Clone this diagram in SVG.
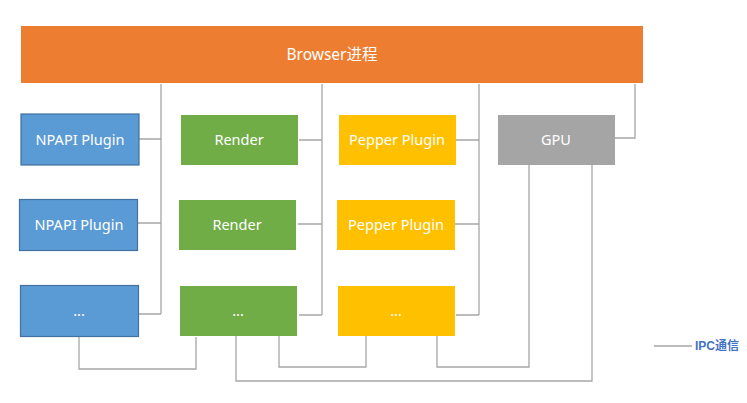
<svg xmlns="http://www.w3.org/2000/svg" width="747" height="403" viewBox="0 0 747 403">
<style>
.t{font-family:"Noto Sans","Noto Sans CJK SC",sans-serif;font-size:14.5px;fill:#fff;text-anchor:middle}
.np{fill:#5B9BD5;stroke:#41719C;stroke-width:1.2}
.re{fill:#70AD47}
.pp{fill:#FFC000}
.gp{fill:#A5A5A5}
.br{fill:#ED7D31}
.c{fill:none;stroke:#A6A6A6;stroke-width:1.3}
</style>
<rect width="747" height="403" fill="#fff"/>
<g id="connectors">
<path class="c" d="M161,84V314M139,139H161M138,223H161M139,314H161"/>
<path class="c" d="M322,84V315M299,140H322M298,224H322M299,315H322"/>
<path class="c" d="M479,84V315M456,140H479M455,224H479M456,315H479"/>
<path class="c" d="M615,138H635V84"/>
<path class="c" d="M79,336V369H196V337"/>
<path class="c" d="M236,336V381H592V165"/>
<path class="c" d="M279,336V367H366V336"/>
<path class="c" d="M437,336V367H529V165"/>
</g>
<g id="browser"><rect class="br" x="21" y="26" width="622" height="57"/><text class="t" x="332" y="60" style="font-size:15.5px">Browser进程</text></g>
<g id="npapi1"><rect class="np" x="21" y="114" width="118" height="51"/><text class="t" x="80" y="145">NPAPI Plugin</text></g>
<g id="npapi2"><rect class="np" x="19.5" y="199.5" width="118" height="51"/><text class="t" x="79" y="230">NPAPI Plugin</text></g>
<g id="npapi3"><rect class="np" x="20.5" y="285.5" width="118" height="51"/><text class="t" x="79" y="316">...</text></g>
<g id="render1"><rect class="re" x="181" y="115" width="117" height="50"/><text class="t" x="239" y="145">Render</text></g>
<g id="render2"><rect class="re" x="179" y="200" width="117" height="50"/><text class="t" x="237" y="230">Render</text></g>
<g id="render3"><rect class="re" x="180" y="286" width="117" height="50"/><text class="t" x="238" y="316">...</text></g>
<g id="pepper1"><rect class="pp" x="339" y="115" width="117" height="50"/><text class="t" x="397" y="145">Pepper Plugin</text></g>
<g id="pepper2"><rect class="pp" x="337" y="200" width="118" height="50"/><text class="t" x="396" y="230">Pepper Plugin</text></g>
<g id="pepper3"><rect class="pp" x="338" y="286" width="117" height="50"/><text class="t" x="396" y="316">...</text></g>
<g id="gpu"><rect class="gp" x="498" y="115" width="117" height="50"/><text class="t" x="556" y="145">GPU</text></g>
<g id="legend"><path class="c" d="M654,346H692"/><text x="695" y="350" style="font-family:'Liberation Sans','Noto Sans CJK SC',sans-serif;font-size:12px;font-weight:bold;fill:#4472C4">IPC通信</text></g>
</svg>
